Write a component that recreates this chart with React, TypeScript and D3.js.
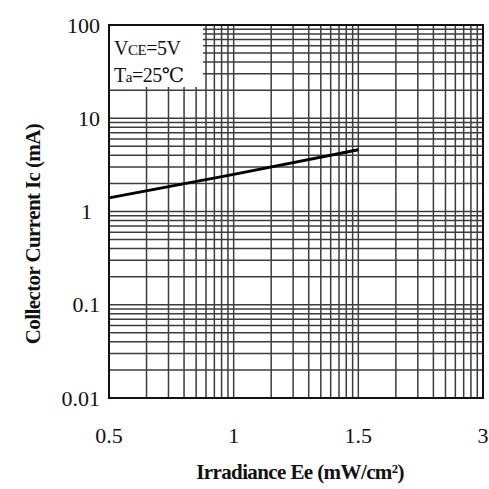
import React from "react";
import * as d3 from "d3";

const xTickLabels = ["0.5", "1", "1.5", "3"];
const xTickValues = [0.5, 1, 1.5, 3];
const yTickValues = [0.01, 0.1, 1, 10, 100];
const yTickLabels = ["0.01", "0.1", "1", "10", "100"];
const irradiance = [0.5, 1, 1.5];
const collectorCurrent = [1.4, 2.5, 4.6];

const W = 489;
const H = 489;
const left = 109;
const right = 483;
const top = 25;
const bottom = 398;

export default function App() {
  // log-paper scale for x: three identical decades
  const xPaper = d3.scaleLog().domain([1, 1000]).range([left, right]);
  const xIdx = d3.scaleLinear().domain(xTickValues).range([0, 1, 2, 3]);
  const x = (v: number) => xPaper(Math.pow(10, xIdx(v)));
  const y = d3.scaleLog().domain([0.01, 100]).range([bottom, top]);

  const xGrid = xPaper.ticks();
  const yGrid = y.ticks();

  const pts: [number, number][] = irradiance.map((v, i) => [x(v), y(collectorCurrent[i])]);
  const line = d3.line()(pts) || "";

  const font = "'Liberation Serif', 'DejaVu Serif', serif";
  const gridColor = "#3c3c3c";

  return (
    <svg
      width={W}
      height={H}
      style={{ position: "absolute", left: 0, top: 0, background: "#fff" }}
    >
      <rect x={0} y={0} width={W} height={H} fill="#fff" />
      <g>
        {xGrid.map((t, i) => (
          <line
            key={"xg" + i}
            x1={xPaper(t)}
            x2={xPaper(t)}
            y1={top}
            y2={bottom}
            stroke={gridColor}
            strokeWidth={1.5}
          />
        ))}
        {yGrid.map((t, i) => (
          <line
            key={"yg" + i}
            x1={left}
            x2={right}
            y1={y(t)}
            y2={y(t)}
            stroke={gridColor}
            strokeWidth={1.5}
          />
        ))}
      </g>
      <rect x={left + 1} y={top + 1} width={93} height={61} fill="#fff" />
      <rect
        x={left}
        y={top}
        width={right - left}
        height={bottom - top}
        fill="none"
        stroke="#111"
        strokeWidth={2}
      />
      <path d={line} fill="none" stroke="#000" strokeWidth={3} />

      <text x={114} y={55} fontFamily={font} fontSize={20} fill="#111" letterSpacing={-0.5}>
        V<tspan fontSize={15}>CE</tspan>=5V
      </text>
      <text x={114} y={82} fontFamily={font} fontSize={20} fill="#111" letterSpacing={-0.5}>
        T<tspan fontSize={15}>a</tspan>=25℃
      </text>

      {yTickValues.map((t, i) => (
        <text
          key={"yl" + i}
          x={100}
          dx={yTickLabels[i] === "1" ? -8 : 0}
          y={y(t)}
          dy="0.35em"
          textAnchor="end"
          fontFamily={font}
          fontSize={22}
          fill="#111"
        >
          {yTickLabels[i]}
        </text>
      ))}
      {xTickValues.map((t, i) => (
        <text
          key={"xl" + i}
          x={x(t)}
          y={443}
          textAnchor="middle"
          fontFamily={font}
          fontSize={22}
          fill="#111"
        >
          {xTickLabels[i]}
        </text>
      ))}
      <text
        x={300}
        y={479}
        textAnchor="middle"
        fontFamily={font}
        fontSize={21}
        fontWeight="bold"
        fill="#111"
        letterSpacing={-0.6}
      >
        Irradiance Ee (mW/cm²)
      </text>
      <text
        transform="translate(40,234) rotate(-90)"
        textAnchor="middle"
        fontFamily={font}
        fontSize={21}
        fontWeight="bold"
        fill="#111"
        letterSpacing={-0.6}
      >
        Collector Current Ic (mA)
      </text>
    </svg>
  );
}
